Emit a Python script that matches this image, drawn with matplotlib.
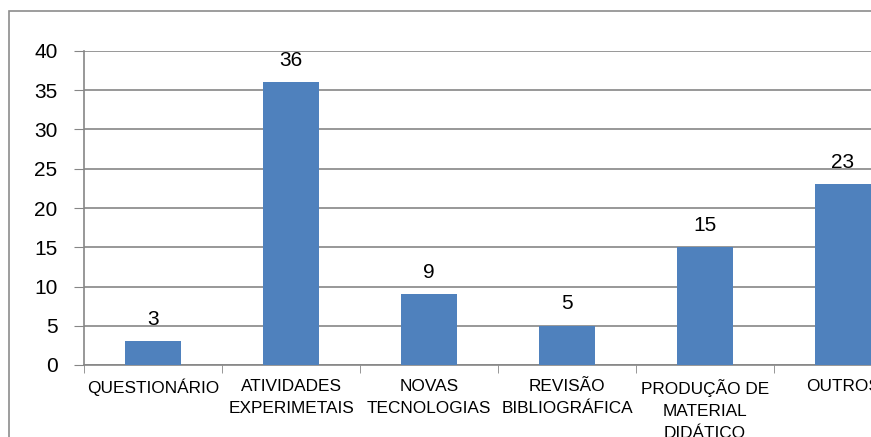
import matplotlib
matplotlib.use("Agg")
import matplotlib.pyplot as plt
from matplotlib.patches import Rectangle

categories = ["QUESTIONÁRIO", "ATIVIDADES\nEXPERIMETAIS", "NOVAS\nTECNOLOGIAS",
              "REVISÃO\nBIBLIOGRÁFICA", "PRODUÇÃO DE\nMATERIAL\nDIDÁTICO", "OUTROS"]
values = [3, 36, 9, 5, 15, 23]
y_ticks = [0, 5, 10, 15, 20, 25, 30, 35, 40]

plt.rcParams["font.family"] = ["Liberation Sans", "DejaVu Sans"]

W, H = 871, 437
fig = plt.figure(figsize=(W / 100, H / 100), dpi=100)

# chart frame (extends past the right and bottom edges)
fig.patches.append(Rectangle((8.5 / W, -0.2), 1.2, (H - 10.5) / H + 0.2,
                             transform=fig.transFigure, fill=False,
                             edgecolor="#8c8c8c", linewidth=1.2))

ax = fig.add_axes([84 / W, (H - 365) / H, 828 / W, 314 / H])
x = list(range(len(categories)))
ax.bar(x, values, width=0.4, color="#4F81BD", zorder=3)

for xi, v in zip(x, values):
    ax.annotate(str(v), (xi, v), xytext=(0, 9), textcoords="offset points",
                ha="center", va="bottom", fontsize=15, color="black")

ax.set_xlim(-0.5, len(categories) - 0.5)
ax.set_ylim(0, 40)
ax.set_yticks(y_ticks)
ax.tick_params(axis="y", labelsize=15, length=7, color="#868686", pad=12)
ax.yaxis.grid(True, color="#868686", linewidth=1.2)
ax.set_axisbelow(True)

ax.set_xticks(x)
ax.set_xticklabels(categories, fontsize=12.4, linespacing=1.6)
ax.tick_params(axis="x", which="major", length=0, pad=10)
ax.set_xticks([i - 0.5 for i in range(len(categories) + 1)], minor=True)
ax.tick_params(axis="x", which="minor", length=6, color="#868686")

for side in ("top", "right"):
    ax.spines[side].set_visible(False)
for side in ("left", "bottom"):
    ax.spines[side].set_color("#868686")
    ax.spines[side].set_linewidth(1.2)

fig.savefig("out.png", dpi=100)
